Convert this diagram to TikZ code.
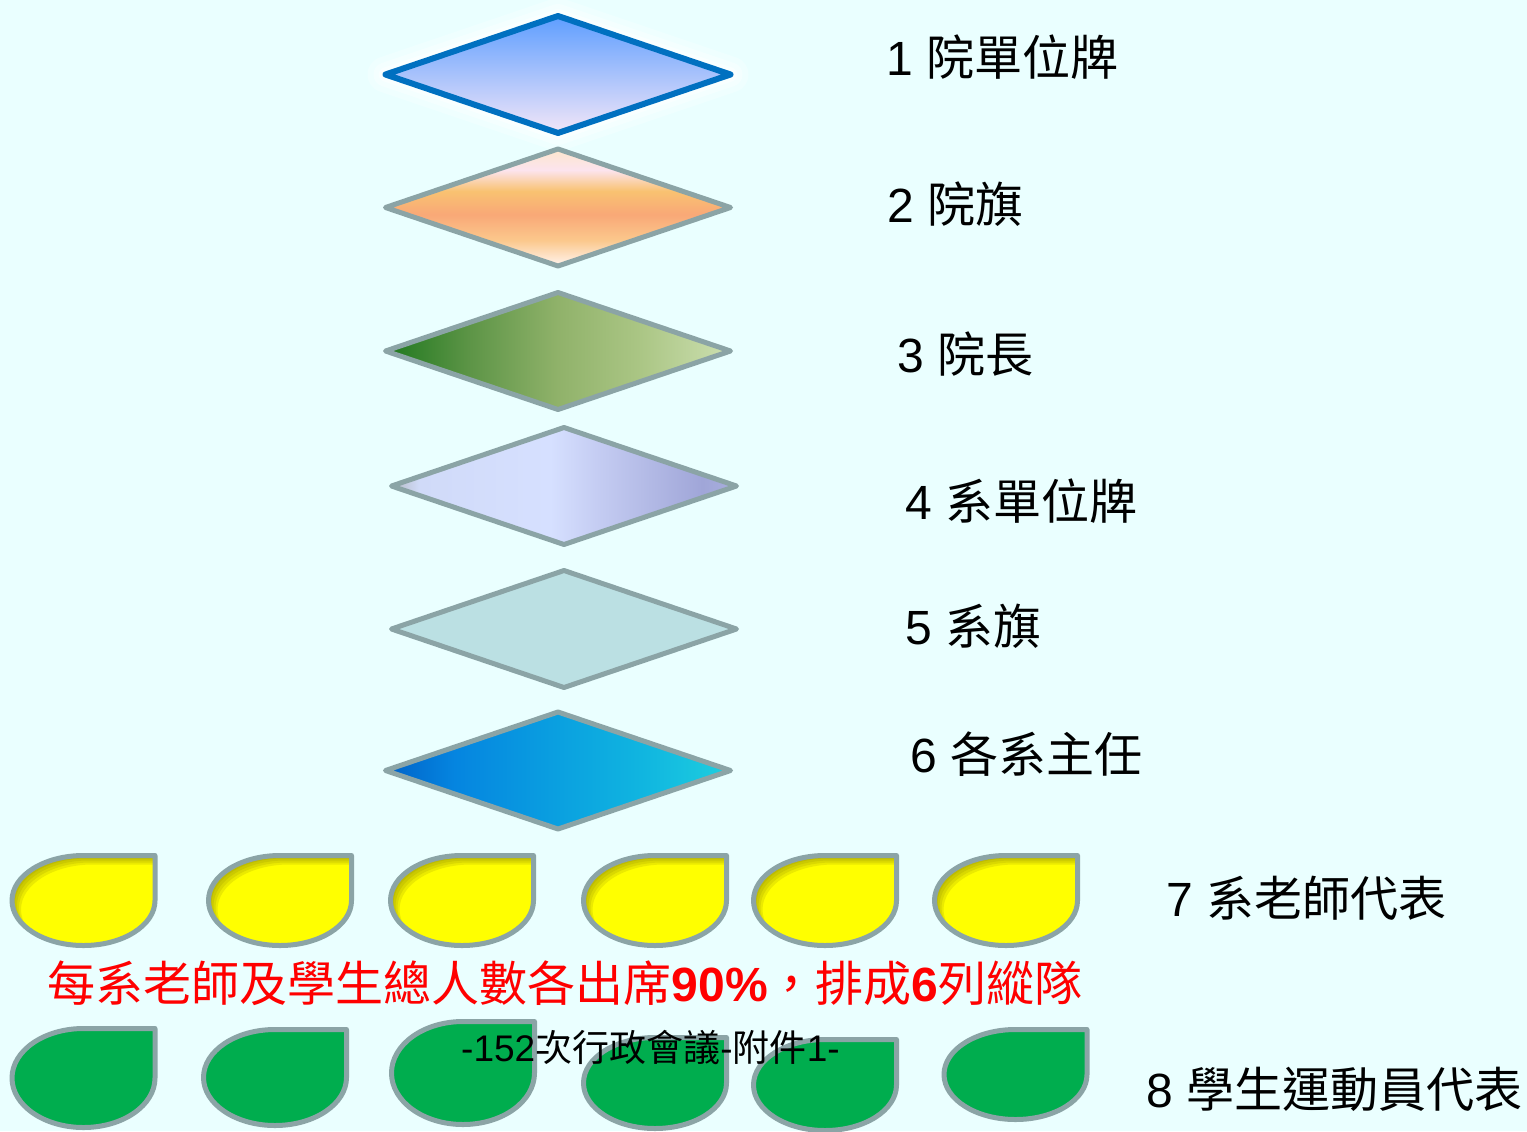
\documentclass[tikz,border=0pt]{standalone}
\usepackage{fontspec}
\setmainfont{Liberation Sans}
\newfontfamily\cjk{Noto Sans CJK TC}

\definecolor{bg}{HTML}{EAFFFF}
\definecolor{edge}{HTML}{8BA4A6}
\definecolor{navy}{HTML}{0070C0}
\definecolor{d1a}{HTML}{5E9EFF}\definecolor{d1b}{HTML}{88BFF9}\definecolor{d1c}{HTML}{F2E6F8}
\definecolor{s0}{HTML}{FDE6CC}\definecolor{s1}{HTML}{FCE4EE}\definecolor{s2}{HTML}{F9C271}
\definecolor{s3}{HTML}{F9A877}\definecolor{s4}{HTML}{FBC88C}\definecolor{s5}{HTML}{FFF0E6}
\definecolor{m0}{HTML}{1E781E}\definecolor{m1}{HTML}{5C9446}\definecolor{m2}{HTML}{90B26A}
\definecolor{m3}{HTML}{ABC685}\definecolor{m4}{HTML}{CCDFB0}
\definecolor{v0}{HTML}{B5BBC4}\definecolor{v1}{HTML}{D0DAF8}\definecolor{v2}{HTML}{D6E0FF}
\definecolor{v3}{HTML}{C4CCF2}\definecolor{v4}{HTML}{A0A6D8}\definecolor{v5}{HTML}{A8AEDC}
\definecolor{d5}{HTML}{BBE0E3}
\definecolor{o0}{HTML}{0062C8}\definecolor{o1}{HTML}{0585E0}\definecolor{o2}{HTML}{0AA0E0}
\definecolor{o3}{HTML}{10B5E0}\definecolor{o4}{HTML}{1ECFDF}
\definecolor{lemon}{HTML}{FFFF00}
\definecolor{dim}{HTML}{7A7500}
\definecolor{leaf}{HTML}{00AD4E}
\definecolor{alert}{HTML}{FF0000}

\pgfdeclareverticalshading{sunset}{100bp}{color(0bp)=(s5); color(26bp)=(s5); color(36bp)=(s4);
  color(47bp)=(s3); color(57bp)=(s2); color(66bp)=(s1); color(75bp)=(s0); color(100bp)=(s0)}
\pgfdeclarehorizontalshading{moss}{100bp}{color(0bp)=(m0); color(25bp)=(m0); color(37bp)=(m1);
  color(50bp)=(m2); color(62bp)=(m3); color(75bp)=(m4); color(100bp)=(m4)}
\pgfdeclarehorizontalshading{lilac}{100bp}{color(0bp)=(v0); color(25bp)=(v0); color(29bp)=(v1);
  color(48bp)=(v2); color(55bp)=(v3); color(70bp)=(v4); color(75bp)=(v5); color(100bp)=(v5)}
\pgfdeclarehorizontalshading{ocean}{100bp}{color(0bp)=(o0); color(25bp)=(o0); color(35bp)=(o1);
  color(50bp)=(o2); color(62bp)=(o3); color(75bp)=(o4); color(100bp)=(o4)}

\newcommand{\diapath}[2]{(#1-172.5,#2) -- (#1,#2-58.5) -- (#1+172.5,#2) -- (#1,#2+58.5) -- cycle}
\newcommand{\droppath}[4]{(#1,#2-#4) -- (#1+#3,#2-#4) -- (#1+#3,#2)
  arc[start angle=0,end angle=270,x radius=#3,y radius=#4] -- cycle}
\newcommand{\ydrop}[2]{%
  \fill[lemon] \droppath{#1}{#2}{71.5}{45};
  \begin{scope}
    \clip \droppath{#1}{#2}{71.5}{45};
    \foreach \s in {3,5,7,9}
      \fill[inshadow, even odd rule] (#1-90,#2-60) rectangle (#1+90,#2+60)
        \droppath{#1+\s}{#2+\s}{71.5}{45};
  \end{scope}
  \draw[drop] \droppath{#1}{#2}{71.5}{45};}

\tikzset{
  dia/.style={draw=edge, line width=1.5mm, line join=round},
  drop/.style={draw=edge, line width=1.5mm, line join=round},
  inshadow/.style={fill=dim, fill opacity=.15},
  glow/.style={draw=white, line join=round},
  lbl/.style={anchor=west, inner sep=0pt, font=\fontsize{41}{48}\selectfont},
}

\begin{document}
\begin{tikzpicture}[x=0.3mm, y=-0.3mm]
    \useasboundingbox (0,0) rectangle (1527,1131);
    \fill[bg] (0,0) rectangle (1527,1131);

    \def\ax{558}; \def\bx{564};

    \draw[glow, opacity=.25, line width=10.8mm] \diapath{\ax}{74.5};
    \draw[glow, opacity=.35, line width=7.2mm] \diapath{\ax}{74.5};
    \draw[glow, opacity=.5, line width=4.2mm] \diapath{\ax}{74.5};
    \shadedraw[top color=d1a, middle color=d1b, bottom color=d1c, draw=navy,
      line width=1.8mm, line join=round] \diapath{\ax}{74.5};
    \shadedraw[dia, shading=sunset] \diapath{\ax}{207.5};
    \shadedraw[dia, shading=moss] \diapath{\ax}{351};
    \shadedraw[dia, shading=lilac] \diapath{\bx}{486};
    \filldraw[dia, fill=d5] \diapath{\bx}{629};
    \shadedraw[dia, shading=ocean] \diapath{\ax}{770.5};

    \node[lbl] (l1) at (886,57.5) {1 {\cjk 院單位牌}};
    \node[lbl] (l2) at (887,204) {2 {\cjk 院旗}};
    \node[lbl] (l3) at (897,354) {3 {\cjk 院長}};
    \node[lbl] (l4) at (905,501) {4 {\cjk 系單位牌}};
    \node[lbl] (l5) at (905,626) {5 {\cjk 系旗}};
    \node[lbl] (l6) at (910,754) {6 {\cjk 各系主任}};
    \node[lbl] (l7) at (1166,898) {7 {\cjk 系老師代表}};
    \node[lbl] (l8) at (1146,1089) {8 {\cjk 學生運動員代表}};

    \ydrop{83.5}{900.5} \ydrop{280}{900.5} \ydrop{462}{900.5}
    \ydrop{655}{900.5} \ydrop{825}{900.5} \ydrop{1006}{900.5}

    \node[lbl, text=alert] (rule) at (47,983.5)
      {\cjk 每系老師及學生總人數各出席{\rmfamily\bfseries 90\%}，排成{\rmfamily\bfseries 6}列縱隊};

    \filldraw[drop, fill=leaf] \droppath{83.5}{1078}{71.5}{49.5};
    \filldraw[drop, fill=leaf] \droppath{275}{1077.5}{71.5}{48};
    \filldraw[drop, fill=leaf] \droppath{463}{1073}{71.5}{51.5};
    \filldraw[drop, fill=leaf] \droppath{655}{1083}{71.5}{45.5};
    \filldraw[drop, fill=leaf] \droppath{825}{1085}{71.5}{45.5};
    \filldraw[drop, fill=leaf] \droppath{1015.5}{1074.5}{71.5}{45};

    \node[lbl, font=\fontsize{31.6}{37}\selectfont] (foot) at (461,1047.5)
      {-152{\cjk 次行政會議}-{\cjk 附件}1-};
\end{tikzpicture}
\end{document}
